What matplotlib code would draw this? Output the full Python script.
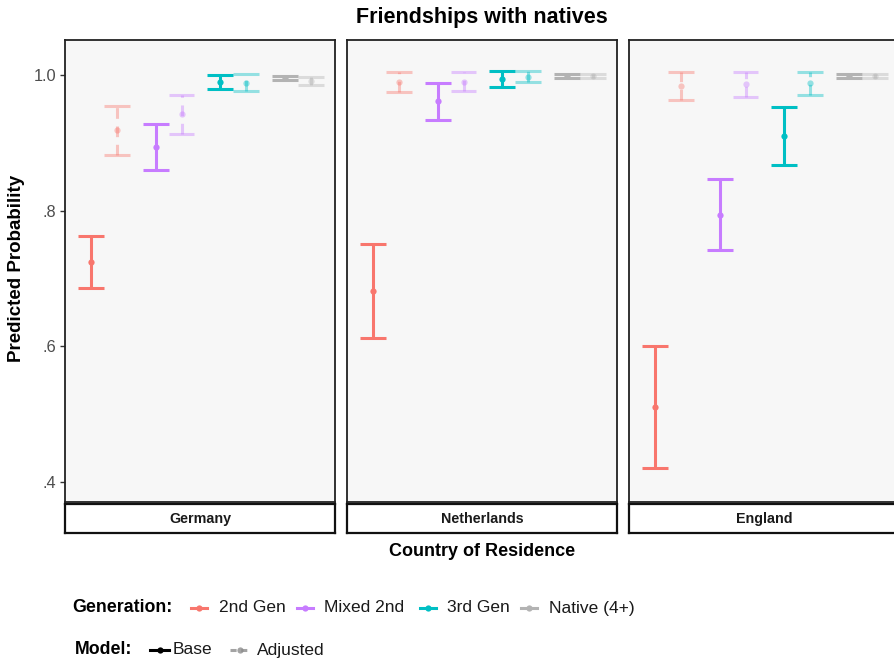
import matplotlib
matplotlib.use("Agg")
import matplotlib.pyplot as plt
from matplotlib.lines import Line2D

plt.rcParams["font.family"] = ["Liberation Sans", "DejaVu Sans"]

countries = ["Germany", "Netherlands", "England"]
generations = ["2nd Gen", "Mixed 2nd", "3rd Gen", "Native (4+)"]
models = ["Base", "Adjusted"]

# predicted probabilities with 95% interval, rows = country, columns = generation
base_est = [[0.725, 0.894, 0.990, 0.996],
            [0.682, 0.961, 0.994, 0.999],
            [0.511, 0.794, 0.910, 0.999]]
base_lo = [[0.686, 0.860, 0.979, 0.992],
           [0.613, 0.934, 0.982, 0.995],
           [0.421, 0.742, 0.867, 0.996]]
base_hi = [[0.763, 0.927, 1.000, 0.999],
           [0.751, 0.988, 1.006, 1.002],
           [0.600, 0.846, 0.953, 1.002]]
adj_est = [[0.919, 0.942, 0.988, 0.991],
           [0.990, 0.990, 0.997, 0.999],
           [0.984, 0.986, 0.988, 0.999]]
adj_lo = [[0.882, 0.913, 0.976, 0.985],
          [0.975, 0.976, 0.989, 0.996],
          [0.963, 0.968, 0.971, 0.996]]
adj_hi = [[0.954, 0.971, 1.001, 0.997],
          [1.005, 1.004, 1.006, 1.002],
          [1.005, 1.004, 1.004, 1.002]]

y_ticks = [0.4, 0.6, 0.8, 1.0]
y_tick_labels = [".4", ".6", ".8", "1.0"]

gen_colors = ["#F8766D", "#C77CFF", "#00BFC4", "#B3B3B3"]

W, H = 894, 662
fig = plt.figure(figsize=(W / 100, H / 100), dpi=100)
fig.patch.set_facecolor("white")


def fx(px):
    return px / W


def fy(py):
    return 1 - py / H


panel_lefts = [65, 347, 629]
panel_w = 270
panel_top, panel_bot = 40, 502
strip_bot = 533

dodge = 0.4
cap_half = 0.2


def draw_interval(ax, x, lo, hi, est, color, alpha, dashed):
    ls = (0, (3.5, 2.5)) if dashed else "-"
    ax.vlines(x, lo, hi, colors=color, alpha=alpha, linewidth=2.2,
              linestyles=ls, zorder=3)
    ax.hlines([lo, hi], x - cap_half, x + cap_half, colors=color,
              alpha=alpha, linewidth=2.2, zorder=3)
    ax.plot([x], [est], "o", color=color, alpha=alpha, markersize=4.5,
            markeredgewidth=0, zorder=4)


for ci, country in enumerate(countries):
    left = panel_lefts[ci]
    ax = fig.add_axes([fx(left), fy(panel_bot), fx(panel_w),
                       (panel_bot - panel_top) / H])
    ax.set_facecolor("#F7F7F7")
    for g in range(len(generations)):
        draw_interval(ax, g, base_lo[ci][g], base_hi[ci][g], base_est[ci][g],
                      gen_colors[g], 1.0, False)
        draw_interval(ax, g + dodge, adj_lo[ci][g], adj_hi[ci][g],
                      adj_est[ci][g], gen_colors[g], 0.4, True)
    ax.set_xlim(-0.40, 3.77)
    ax.set_ylim(0.3706, 1.0515)
    ax.set_xticks([])
    for sp in ax.spines.values():
        sp.set_color("#222222")
        sp.set_linewidth(1.3)
    if ci == 0:
        ax.set_yticks(y_ticks)
        ax.set_yticklabels(y_tick_labels)
        ax.tick_params(axis="y", length=3.5, width=1, color="#333333",
                       labelsize=11.8, labelcolor="#4D4D4D", pad=3)
    else:
        ax.set_yticks([])

    sax = fig.add_axes([fx(left), fy(strip_bot), fx(panel_w),
                        (strip_bot - panel_bot - 2) / H])
    sax.set_facecolor("white")
    sax.set_xticks([])
    sax.set_yticks([])
    for sp in sax.spines.values():
        sp.set_color("#111111")
        sp.set_linewidth(1.6)
    fig.text(fx(left + panel_w / 2), fy(523), country, ha="center",
             va="baseline", fontsize=10.3, fontweight="bold", color="#1A1A1A")

fig.text(fx(482), fy(18), "Friendships with natives", ha="center",
         va="center", fontsize=15.5, fontweight="bold")
fig.text(fx(482), fy(552), "Country of Residence", ha="center",
         va="center", fontsize=13, fontweight="bold")
fig.text(fx(17), fy(268), "Predicted Probability", ha="center",
         va="center", rotation=90, fontsize=13.5, fontweight="bold")


def legend_key(x0, length, y, color, dashed, alpha=1.0):
    ls = (0, (2, 1.5)) if dashed else "-"
    fig.add_artist(Line2D([fx(x0), fx(x0 + length)], [fy(y), fy(y)],
                          transform=fig.transFigure, color=color, alpha=alpha,
                          linewidth=2.2, linestyle=ls))
    fig.add_artist(Line2D([fx(x0 + length / 2)], [fy(y)],
                          transform=fig.transFigure, marker="o",
                          markersize=4.5, markeredgewidth=0,
                          color=color, alpha=alpha))


# generation legend
gy = 608
fig.text(fx(72), fy(gy), "Generation:", ha="left", va="center",
         fontsize=12.8, fontweight="bold")
gen_key_x = [191, 297, 420, 521]
gen_label_x = [219, 324, 447, 549]
for g, name in enumerate(generations):
    legend_key(gen_key_x[g], 16, gy, gen_colors[g], False)
    fig.text(fx(gen_label_x[g]), fy(gy), name, ha="left", va="center",
             fontsize=12.5, color="#1A1A1A")

# model legend
my = 650
fig.text(fx(75), fy(my), "Model:", ha="left", va="center",
         fontsize=12.8, fontweight="bold")
legend_key(150, 19, my, "black", False)
fig.text(fx(173), fy(my), models[0], ha="left", va="center", fontsize=12.5,
         color="#1A1A1A")
legend_key(230, 19, my, "#8C8C8C", True, alpha=0.8)
fig.text(fx(257), fy(my), models[1], ha="left", va="center", fontsize=12.5,
         color="#1A1A1A")

fig.savefig("out.png", dpi=100, facecolor="white")
